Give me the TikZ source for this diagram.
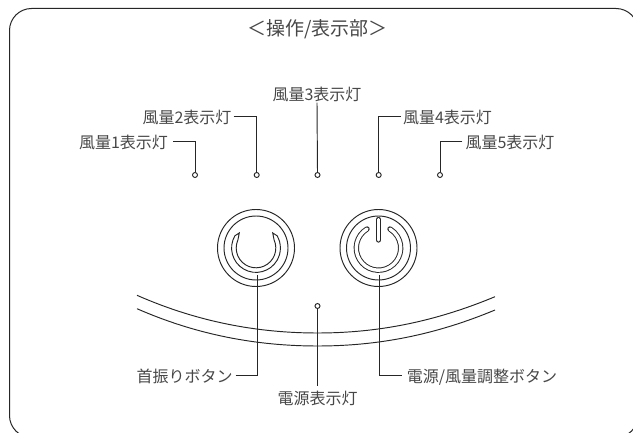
\documentclass[tikz,border=0pt]{standalone}
\usepackage{fontspec}
\setmainfont{Noto Sans CJK JP}
\tikzset{
  ln/.style={draw=black!85,line width=0.95pt},
  lab/.style={text=black!72,font=\fontsize{16}{16}\selectfont,inner sep=2pt,text height=16pt,text depth=2pt},
  ttl/.style={lab,font=\fontsize{19}{19}\selectfont},
  lamp/.style={circle,draw=black!85,line width=0.95pt,fill=white,inner sep=0pt,minimum size=5pt},
  ring/.style={circle,draw=black!85,line width=0.95pt,inner sep=0pt},
  pwr/.style={draw=black!85,line width=0.95pt,double=white,double distance=3.4pt,line cap=round},
}
\begin{document}
\begin{tikzpicture}[x=1pt,y=-1pt]
\useasboundingbox (0,0) rectangle (633,433);
\begin{scope}
\clip (0,0) rectangle (633,433);
\draw[ln,line width=1pt,rounded corners=22pt] (9.5,8.5) rectangle (638,437.5);
\end{scope}
\node[ttl] (title) at (317.5,29) {＜操作/表示部＞};
\node[lab,inner xsep=5pt] (l1) at (123.5,141.7) {風量1表示灯};
\node[lab] (l2) at (187,116.3) {風量2表示灯};
\node[lab,text depth=0pt] (l3) at (317,92.5) {風量3表示灯};
\node[lab] (l4) at (447.5,116.3) {風量4表示灯};
\node[lab,inner xsep=3pt] (l5) at (510,141.7) {風量5表示灯};
\node[lab,inner xsep=3pt] (l6) at (184.5,375.5) {首振りボタン};
\node[lab,inner xsep=5pt] (l7) at (482,375.5) {電源/風量調整ボタン};
\node[lab] (l8) at (317.5,397) {電源表示灯};
\node[lamp] (d1) at (195,175) {};
\node[lamp] (d2) at (256.7,175) {};
\node[lamp] (d3) at (317.5,175) {};
\node[lamp] (d4) at (378.7,175) {};
\node[lamp] (d5) at (440,175) {};
\node[lamp] (d6) at (317.5,306) {};
\node[ring,minimum size=77pt] (bl) at (256,248) {};
\node[ring,minimum size=64pt] at (256,248) {};
\node[ring,minimum size=77pt] (br) at (378.5,248) {};
\node[ring,minimum size=64pt] at (378.5,248) {};
\coordinate (blend) at (257.7,275);
\coordinate (brend) at (379.7,275);
\draw[ln] (137,295.3) .. controls (197,321.7) and (257,333) .. (317.5,333) .. controls (378,333) and (435,321.7) .. (495,296.7);
\draw[ln] (137,308.7) .. controls (197,335) and (257,346) .. (317.5,346) .. controls (378,346) and (435,335) .. (495,310);
\begin{scope}[shift={(256,248)}]
\draw[ln,line join=miter] (150:24.4pt) arc[start angle=150,end angle=390,radius=24.4pt] -- (42:22.5pt) -- (24:19.8pt) arc[start angle=384,end angle=156,radius=19.8pt] -- (138:22.5pt) -- cycle;
\end{scope}
\begin{scope}[shift={(378.5,248)}]
\draw[pwr] (121:22.2pt) arc[start angle=121,end angle=419,radius=22.2pt];
\end{scope}
\coordinate (bara) at (378.5,219.5);
\coordinate (barb) at (378.5,240);
\draw[pwr] (bara) -- (barb);
\draw[ln] (l1.east) -| (d1.north);
\draw[ln] (l2.east) -| (d2.north);
\draw[ln] (l3.south) -- (d3.north);
\draw[ln] (l4.west) -| (d4.north);
\draw[ln] (l5.west) -| (d5.north);
\draw[ln] (l6.east) -| (blend);
\draw[ln] (l7.west) -| (brend);
\draw[ln] (d6.south) -- (l8.north);
\end{tikzpicture}
\end{document}
